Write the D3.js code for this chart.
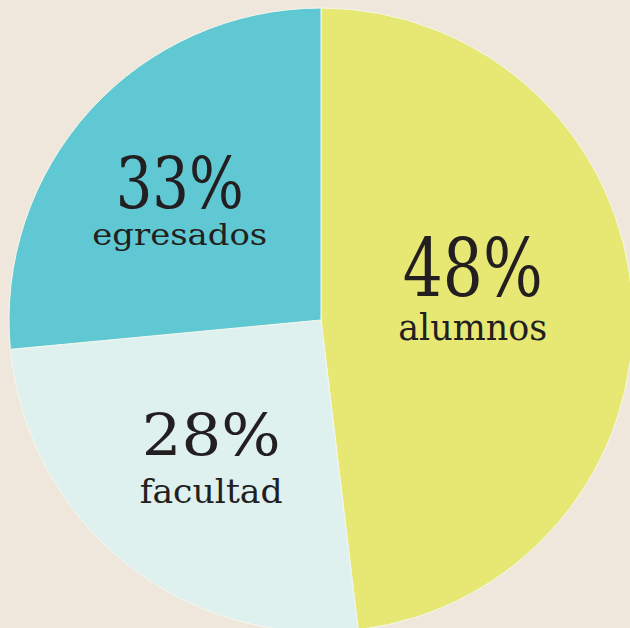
<!DOCTYPE html>
<html>
<head>
<meta charset="utf-8">
<script src="https://cdn.jsdelivr.net/npm/d3@7"></script>
<style>
  html, body { margin: 0; padding: 0; background: #efe7dc; overflow: hidden; }
  svg { display: block; }
  text { font-family: "DejaVu Serif", serif; fill: #231f20; }
</style>
</head>
<body>
<div id="pie-chart"></div>
<script>
// slices as drawn (share of the circle) and the labels printed on them
const groups = ["alumnos", "facultad", "egresados"];
const shares = [48.1, 25.4, 26.5];
const pctLabels = ["48%", "28%", "33%"];
const colors = ["#e7e873", "#dff1ef", "#5fc8d3"];

// label layout (hand tuned per slice)
const labelRadius = [152, 175, 191];
const labelShift = [-15, -1, 17];
const pctSize = [80, 58, 71];
const pctWidth = [140, 139, 128];
const nameSize = [37, 33, 30];
const nameWidth = [149, 143, 175];
const nameGap = [44, 48, 37];

const renderPie = () => {
    const svg = d3.select("#pie-chart").html("").append("svg").attr("width", 630).attr("height", 628);
    const cx = 321, cy = 320, radius = 312;
    const g = svg.append("g").attr("transform", `translate(${cx},${cy})`);

    const data = groups.map((name, i) => ({ name, value: shares[i], i }));
    const pie = d3.pie().value(d => d.value).sort(null);
    const arc = d3.arc().innerRadius(0).outerRadius(radius);
    const arcs = pie(data);

    g.selectAll(".slice")
        .data(arcs)
        .enter().append("path")
        .attr("class", "slice")
        .attr("d", arc)
        .attr("fill", d => colors[d.data.i])
        .attr("stroke", "#f4f7ee")
        .attr("stroke-width", 1);

    const labels = g.selectAll(".label")
        .data(arcs)
        .enter().append("g")
        .attr("class", "label")
        .attr("transform", d => {
            const r = labelRadius[d.data.i];
            const [x, y] = d3.arc().innerRadius(r).outerRadius(r).centroid(d);
            return `translate(${x},${y + labelShift[d.data.i]})`;
        });

    labels.append("text")
        .attr("text-anchor", "middle")
        .style("font-size", d => pctSize[d.data.i] + "px")
        .attr("textLength", d => pctWidth[d.data.i])
        .attr("lengthAdjust", "spacingAndGlyphs")
        .text(d => pctLabels[d.data.i]);

    labels.append("text")
        .attr("text-anchor", "middle")
        .attr("y", d => nameGap[d.data.i])
        .style("font-size", d => nameSize[d.data.i] + "px")
        .attr("textLength", d => nameWidth[d.data.i])
        .attr("lengthAdjust", "spacingAndGlyphs")
        .text(d => d.data.name);
};

renderPie();
</script>
</body>
</html>
